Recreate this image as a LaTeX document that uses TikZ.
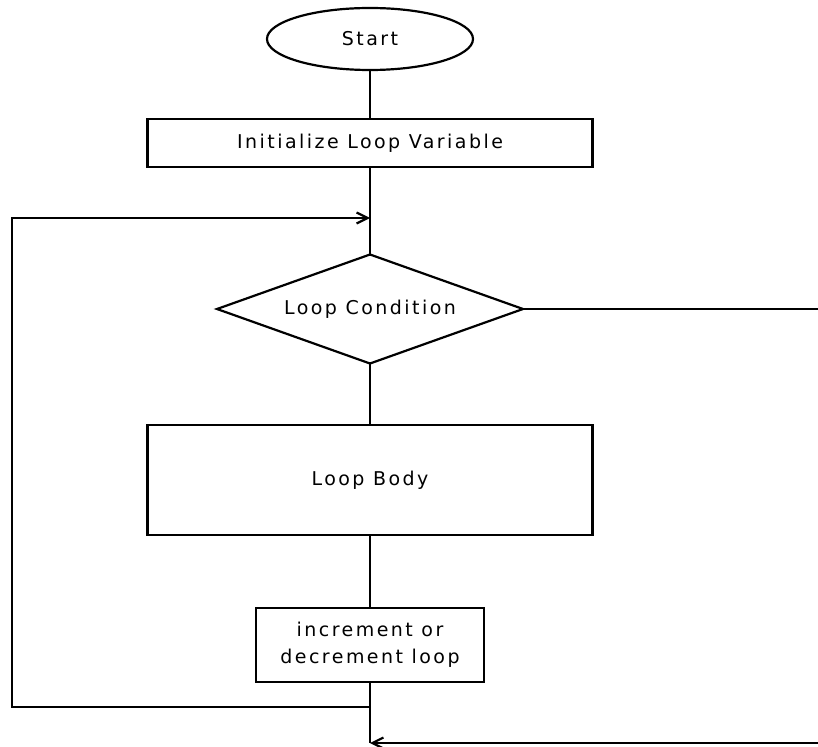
\documentclass[tikz,border=0pt]{standalone}
\usepackage{fontspec}
\setmainfont{DejaVu Sans}[LetterSpace=13]
\usetikzlibrary{shapes.geometric,arrows.meta}
\begin{document}
\begin{tikzpicture}[x=1pt,y=-1pt,
  line width=2.2pt,
  every node/.style={font=\fontsize{19}{27}\selectfont, inner sep=0pt, outer sep=0pt, align=center},
  terminal/.style={draw, ellipse, minimum width=206pt, minimum height=62pt},
  process/.style={draw, rectangle, minimum width=445pt},
  decision/.style={draw, diamond, shape aspect=2.8, minimum width=306pt, minimum height=109pt},
  flow/.style={-{Straight Barb[length=11pt,width=11pt]}}]
  \useasboundingbox (0,0) rectangle (818,746);

  % flowchart blocks
  \node[terminal] (start) at (370,39) {Start};
  \node[process, minimum height=48pt] (init) at (370,143) {Initialize Loop Variable};
  \node[decision] (cond) at (370,309) {Loop Condition};
  \node[process, minimum height=110pt] (body) at (370,480) {Loop Body};
  \node[draw, rectangle, minimum width=228pt, minimum height=74pt] (inc) at (370,645)
    {increment or\\decrement loop};

  % junctions on the main axis and the return path corners
  \coordinate (join) at (370,218);
  \coordinate (back) at (370,707);
  \coordinate (bl) at (12,707);
  \coordinate (exitr) at (822,309);
  \coordinate (done) at (370,743);

  % main flow
  \draw (start) -- (init);
  \draw (init.south) -- (join) -- (cond.north);
  \draw (cond.south) -- (body.north);
  \draw (body.south) -- (inc.north);
  \draw (inc.south) -- (done);

  % loop back to the condition
  \draw[flow] (back) -- (bl) |- (join);

  % exit when the condition fails
  \draw[flow] (cond.east) -- (exitr) |- (done);
\end{tikzpicture}
\end{document}
